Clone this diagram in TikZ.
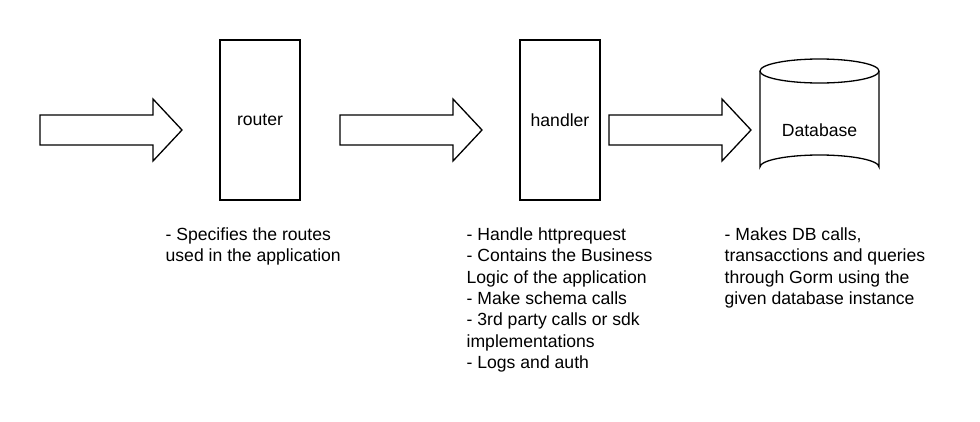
\documentclass[tikz,border=0pt]{standalone}
\usepackage{fontspec}
\setmainfont{Liberation Sans}
\usetikzlibrary{positioning}

\begin{document}
\begin{tikzpicture}[
    x=1pt, y=-1pt,
    line width=1.3pt,
    every node/.style={font=\fontsize{17.6}{21.3}\selectfont},
    block/.style={
        draw,
        minimum width=80pt,
        minimum height=160pt,
        inner sep=0pt
    },
    note/.style={
        anchor=north west,
        align=left,
        inner sep=0pt
    }
]
    \useasboundingbox (0,0) rectangle (980,421);

    % Block arrows
    \foreach \x in {40, 340, 609} {
        \draw (\x,115) -- ++(113,0) -- ++(0,-16) -- ++(29,31)
            -- ++(-29,31) -- ++(0,-16) -- ++(-113,0) -- cycle;
    }

    % Router and handler
    \node[block] (router) at (260,120) {router};
    \node[block] (handler) at (560,120) {handler};

    % Database cylinder
    \draw (760,71) -- (760,167) arc[start angle=180, end angle=360,
        x radius=59.5, y radius=12] -- (879,71);
    \draw (819.5,71) ellipse[x radius=59.5, y radius=12];
    \node (db) at (819.5,130) {Database};

    % Notes (top of first strut = baseline - 14.9)
    \node[note] (routernote) at (165,225.1) {\strut- Specifies the routes\\
        used in the application};
    \node[note] (handlernote) at (466,225.1) {\strut- Handle httprequest\\
        - Contains the Business\\
        Logic of the application\\
        - Make schema calls\\
        - 3rd party calls or sdk\\
        implementations\\
        - Logs and auth};
    \node[note] (dbnote) at (724,225.1) {\strut- Makes DB calls,\\
        transacctions and queries\\
        through Gorm using the\\
        given database instance};

\end{tikzpicture}
\end{document}
